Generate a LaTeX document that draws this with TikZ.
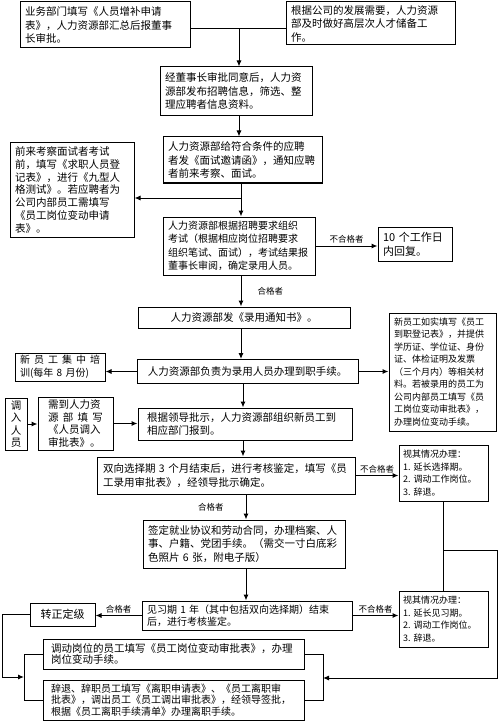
\documentclass[tikz,border=0pt]{standalone}
\usepackage{fontspec}
\setmainfont{Noto Sans CJK SC}
\usetikzlibrary{arrows.meta}

\begin{document}
\begin{tikzpicture}[x=1pt,y=-1pt,line width=1pt,
    box/.style={draw,line width=1pt,inner xsep=5pt,inner ysep=1pt,align=left,
      font=\fontsize{10.5}{13.5}\selectfont},
    tag/.style={font=\fontsize{8.5}{10}\selectfont,inner sep=2pt},
    >={Latex[length=6pt,width=5pt]}]
    \useasboundingbox (0,0) rectangle (500,722);

    % top row
    \node[box,minimum width=170pt,minimum height=46pt,text width=160pt] (req) at (105,25)
      {业务部门填写《人员增补申请\\表》，人力资源部汇总后报董事\\长审批。};
    \node[box,minimum width=169pt,minimum height=43pt,text width=159pt] (reserve) at (370.5,23.5)
      {根据公司的发展需要，人力资源\\部及时做好高层次人才储备工\\作。};
    \node[box,minimum width=152pt,minimum height=49pt,text width=142pt] (publish) at (236,91.5)
      {经董事长审批同意后，人力资\\源部发布招聘信息，筛选、整\\理应聘者信息资料。};
    \node[box,minimum width=159pt,minimum height=46pt,text width=149pt] (invite) at (242.5,160)
      {人力资源部给符合条件的应聘\\者发《面试邀请函》，通知应聘\\者前来考察、面试。};
    \node[box,minimum width=124pt,minimum height=94pt,text width=114pt,
      font=\fontsize{10.5}{12.8}\selectfont] (register) at (72,190)
      {前来考察面试者考试\\前，填写《求职人员登\\记表》，进行《九型人\\格测试》。若应聘者为\\公司内部员工需填写\\《员工岗位变动申请\\表》。};
    \node[box,minimum width=152pt,minimum height=58pt,text width=142pt,
      font=\fontsize{10}{13.5}\selectfont] (exam) at (239,246)
      {人力资源部根据招聘要求组织\\考试（根据相应岗位招聘要求\\组织笔试、面试），考试结果报\\董事长审阅，确定录用人员。};
    \node[box,minimum width=74pt,minimum height=34pt,text width=64pt,
      font=\fontsize{11}{14}\selectfont] (reply) at (415,244)
      {10~个工作日\\内回复。};
    \node[box,minimum width=212pt,minimum height=21pt,align=center] (notice) at (244,317.5)
      {人力资源部发《录用通知书》。};

    % entry
    \node[box,minimum width=221pt,minimum height=24pt,align=center] (entry) at (247.5,371.5)
      {人力资源部负责为录用人员办理到职手续。};
    \node[box,minimum width=90pt,minimum height=28pt,text width=80pt,
      font=\fontsize{10}{12.5}\selectfont] (train) at (60,367)
      {新\hfill 员\hfill 工\hfill 集\hfill 中\hfill 培\\训(每年~8~月份)};
    \node[box,minimum width=107pt,minimum height=118pt,text width=97pt,
      font=\fontsize{9}{12.5}\selectfont] (docs) at (442.5,372)
      {新员工如实填写《员工\\到职登记表》，并提供\\学历证、学位证、身份\\证、体检证明及发票\\（三个月内）等相关材\\料。若被录用的员工为\\公司内部员工填写《员\\工岗位变动审批表》，\\办理岗位变动手续。};
    \node[box,minimum width=22pt,minimum height=52pt,inner xsep=1pt,align=center,
      font=\fontsize{10.5}{12.5}\selectfont] (transfer) at (16,424)
      {调\\入\\人\\员};
    \node[box,minimum width=75pt,minimum height=53pt,inner xsep=10pt,text width=55pt,
      font=\fontsize{10.5}{12.5}\selectfont] (transform) at (75.5,423.5)
      {需到人力资\\源\hfill 部\hfill 填\hfill 写\\《人员调入\\审批表》。};
    \node[box,minimum width=214pt,minimum height=32pt,inner xsep=9pt,text width=196pt,
      font=\fontsize{10.5}{13}\selectfont] (report) at (245,424)
      {根据领导批示，人力资源部组织新员工到\\相应部门报到。};

    % assessment
    \node[box,minimum width=258pt,minimum height=37pt,inner xsep=6pt,text width=246pt] (choose) at (226,475.5)
      {双向选择期~3~个月结束后，进行考核鉴定，填写《员\\工录用审批表》，经领导批示确定。};
    \node[box,minimum width=89pt,minimum height=56pt,inner xsep=4pt,text width=81pt,
      font=\fontsize{9}{12.5}\selectfont] (option1) at (443.5,473)
      {视其情况办理：\\1.~延长选择期。\\2.~调动工作岗位。\\3.~辞退。};
    \node[box,minimum width=202pt,minimum height=48pt,text width=192pt] (contract) at (244,544)
      {签定就业协议和劳动合同，办理档案、人\\事、户籍、党团手续。（需交一寸白底彩\\色照片~6~张，附电子版）};
    \node[box,minimum width=210pt,minimum height=29pt,text width=200pt,
      font=\fontsize{10}{12}\selectfont] (intern) at (247,615.5)
      {见习期~1~年（其中包括双向选择期）结束\\后，进行考核鉴定。};
    \node[box,minimum width=65pt,minimum height=23pt,align=center,
      font=\fontsize{11}{13}\selectfont] (regular) at (62.5,614.5) {转正定级};
    \node[box,minimum width=89pt,minimum height=56pt,inner xsep=4pt,text width=81pt,
      font=\fontsize{9}{12.5}\selectfont] (option2) at (443.5,619)
      {视其情况办理：\\1.~延长见习期。\\2.~调动工作岗位。\\3.~辞退。};
    \node[box,minimum width=261pt,minimum height=30pt,inner xsep=8pt,text width=245pt,
      font=\fontsize{10.5}{11.5}\selectfont] (change) at (173.5,654)
      {调动岗位的员工填写《员工岗位变动审批表》，办理\\岗位变动手续。};
    \node[box,minimum width=261pt,minimum height=40pt,inner xsep=8pt,text width=245pt,
      font=\fontsize{10}{11.5}\selectfont] (leave) at (173.5,700)
      {辞退、辞职员工填写《离职申请表》、《员工离职审\\批表》，调出员工《员工调出审批表》，经领导签批，\\根据《员工离职手续清单》办理离职手续。};

    % connectors
    \coordinate (top) at (239,29);
    \coordinate (sp) at (241,198);
    \coordinate (sp2) at (243,0);
    \coordinate (sp3) at (246,0);
    \coordinate (fork) at (443.5,550);
    \coordinate (edge) at (497,678);
    \coordinate (rb) at (323,678);
    \coordinate (lb) at (24,677);

    \draw (req.east |- top) -- (reserve.west |- top);
    \draw[->] (top) -- (top |- publish.north);
    \draw[->] (publish.south -| top) -- (invite.north -| top);
    \draw[->] (invite.south -| sp) -- (exam.north -| sp);
    \draw[->] (sp) -- (sp -| register.east);
    \draw[->] (exam.east) -- (exam.east -| reply.west) node[tag,midway,above] {不合格者};
    \draw[->] (exam.south -| sp) -- (notice.north -| sp) node[tag,midway,right=14pt] {合格者};
    \draw[->] (notice.south -| sp) -- (entry.north -| sp);
    \draw[->] (entry.west) -- (entry.west -| train.east);
    \draw[->] (entry.east) -- (entry.east -| docs.west);
    \draw[->] (transfer.east) -- (transfer.east -| transform.west);
    \draw[->] (transform.east) -- (transform.east -| report.west);
    \draw[->] (entry.south -| sp2) -- (report.north -| sp2);
    \draw[->] (report.south -| sp2) -- (choose.north -| sp2);
    \draw[->] (choose.east) -- (choose.east -| option1.west) node[tag,midway,above] {不合格者};
    \draw[->] (choose.south -| sp3) -- (contract.north -| sp3) node[tag,midway,left=20pt] {合格者};
    \draw[->] (contract.south -| sp3) -- (intern.north -| sp3);
    \draw[->] (intern.west) -- (intern.west -| regular.east) node[tag,midway,above] {合格者};
    \draw[->] (intern.east) -- (intern.east -| option2.west) node[tag,midway,above] {不合格者};
    \draw (option1.south) -- (option2.north);
    \draw[->] (fork) -| (edge) -- (rb);
    \draw (change.east) -- (change.east -| rb) -- (leave.east -| rb) -- (leave.east);
    \draw (change.west) -- (change.west -| lb) -- (leave.west -| lb) -- (leave.west);
    \draw[->] (regular.west) -- ++(-27,0) |- (lb);

\end{tikzpicture}
\end{document}
